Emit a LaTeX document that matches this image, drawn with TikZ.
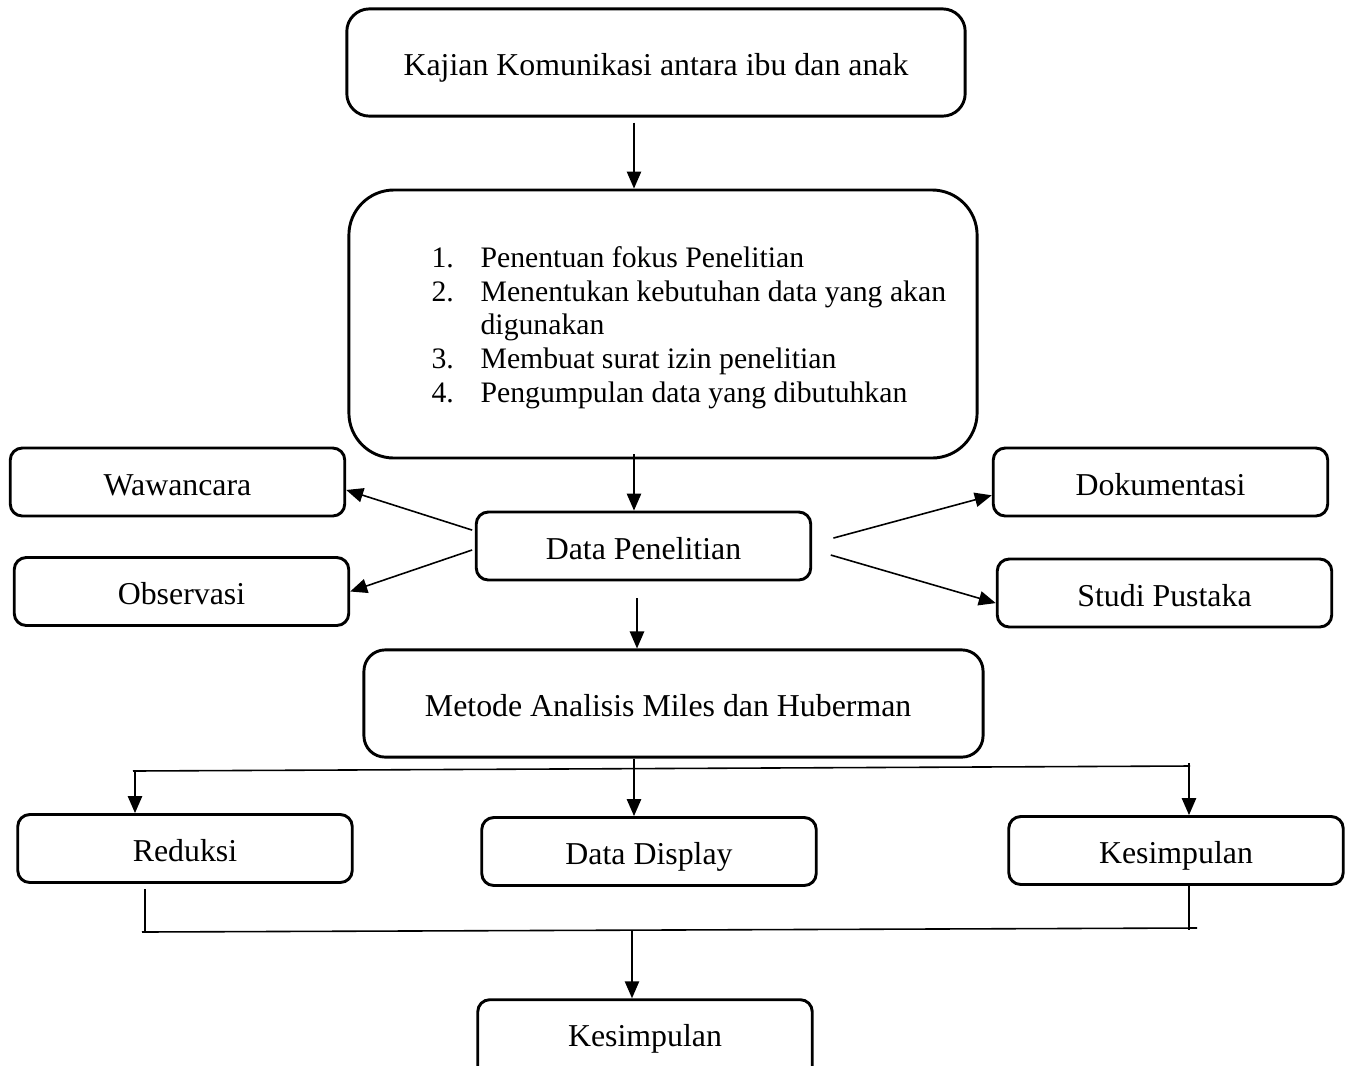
\documentclass[tikz,border=0pt]{standalone}
\usepackage{fontspec}
\setmainfont{Liberation Serif}
\usetikzlibrary{arrows.meta}
\begin{document}
\begin{tikzpicture}[x=0.01325cm,y=-0.01325cm,
        kotak/.style={draw,line width=1.1pt,rounded corners=4.5pt,minimum width=4.43cm,minimum height=0.9cm,text height=10pt,text depth=0pt,font=\fontsize{12}{12.7}\selectfont},
        panah/.style={line width=0.6pt,-{Triangle[length=6.4pt,width=5.4pt]}},
        garis/.style={line width=0.6pt}]
        \useasboundingbox (0,0) rectangle (1351,1065);
        \node[kotak,rounded corners=8.5pt,minimum width=8.19cm,minimum height=1.42cm] (kajian) at (656,62.5) {Kajian Komunikasi antara ibu dan anak};
        \node[kotak,rounded corners=17pt,minimum width=8.32cm,minimum height=3.55cm] (langkah) at (663,324) {};
        \node[anchor=west,align=left,inner sep=0pt,font=\fontsize{11.2}{12.7}\selectfont] (daftar) at (431,328) {%
            \begin{tabular}{@{}p{18.5pt}@{}l@{}}
            1. & Penentuan fokus Penelitian\\
            2. & Menentukan kebutuhan data yang akan\\
               & digunakan\\
            3. & Membuat surat izin penelitian\\
            4. & Pengumpulan data yang dibutuhkan
            \end{tabular}};
        \node[kotak] (wawancara) at (177.5,482) {Wawancara};
        \node[kotak] (observasi) at (181.5,591.5) {Observasi};
        \node[kotak] (data) at (643.5,546) {Data Penelitian};
        \node[kotak] (dokumentasi) at (1160.5,482) {Dokumentasi};
        \node[kotak] (studi) at (1164.5,593) {Studi Pustaka};
        \node[kotak,rounded corners=8pt,minimum width=8.2cm,minimum height=1.42cm] (metode) at (673.5,703.5) {\hspace*{-4pt}Metode Analisis Miles dan Huberman};
        \node[kotak] (reduksi) at (185,848.5) {Reduksi};
        \node[kotak] (display) at (649,851.5) {Data Display};
        \node[kotak] (kesimpulan) at (1176,850.5) {Kesimpulan};
        \node[kotak,minimum height=1.2cm] (akhir) at (645,1045) {};
        \node[font=\fontsize{12}{12.7}\selectfont,text height=10pt,text depth=0pt] (akhirteks) at (645,1033) {Kesimpulan};
        % alur utama
        \coordinate (poros) at (634,0);
        \draw[panah] ([yshift=-1.9pt]kajian.south -| poros) -- (langkah.north -| poros);
        \draw[panah] ([yshift=2pt]langkah.south -| poros) -- (data.north -| poros);
        \draw[panah] ([yshift=-6.4pt]data.south -| 637,0) -- (metode.north -| 637,0);
        \draw[panah] (metode.south -| poros) -- (display.north -| poros);
        % teknik pengumpulan data
        \draw[panah] ([xshift=-1pt,yshift=6pt]data.west) -- ([yshift=-3pt]wawancara.east);
        \draw[panah] ([xshift=-1pt,yshift=-1.5pt]data.west) -- (observasi.east);
        \draw[panah] ([xshift=8pt,yshift=3pt]data.east) -- ([yshift=-5pt]dokumentasi.west);
        \draw[panah] ([xshift=7pt,yshift=-3.4pt]data.east) -- ([yshift=-3.8pt]studi.west);
        % cabang analisis
        \coordinate (cabkiri) at (133,771);
        \coordinate (cabkanan) at (1190,766);
        \draw[garis] (cabkiri) -- (cabkanan);
        \draw[panah] (135,771) -- (reduksi.north -| 135,0);
        \draw[panah] (1189,763) -- (kesimpulan.north -| 1189,0);
        % gabungan
        \coordinate (gabkiri) at (142,932);
        \coordinate (gabkanan) at (1197,928);
        \draw[garis] (gabkiri) -- (gabkanan);
        \draw[garis] ([yshift=-2pt]reduksi.south -| 145,0) -- (145,932);
        \draw[garis] (kesimpulan.south -| 1189,0) -- (1189,930);
        \draw[panah] (632,930) -- (akhir.north -| 632,0);
    \end{tikzpicture}
\end{document}
